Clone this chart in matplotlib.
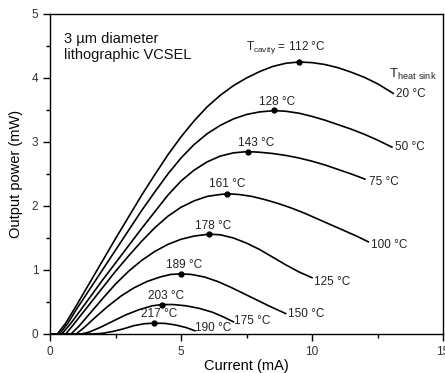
import matplotlib
matplotlib.use("Agg")
import matplotlib.pyplot as plt
from matplotlib.ticker import MultipleLocator

plt.rcParams['font.family'] = ['Liberation Sans', 'DejaVu Sans']

# current (mA) / output power (mW) for each heat sink temperature
i20 = [0.0, 0.28, 0.6, 1.0, 1.5, 2.0, 2.5, 3.0, 3.5, 4.0, 4.5, 5.0, 5.5, 6.0, 6.5, 7.0, 7.5, 8.0,
       8.5, 9.0, 9.5, 10.0, 10.5, 11.0, 11.5, 12.0, 12.5, 13.1]
p20 = [0.0, 0.0, 0.17, 0.44, 0.79, 1.14, 1.49, 1.83, 2.17, 2.49, 2.80, 3.08, 3.33, 3.55, 3.73, 3.88, 4.00, 4.10,
       4.18, 4.23, 4.25, 4.24, 4.21, 4.16, 4.09, 4.01, 3.91, 3.76]
i50 = [0.0, 0.36, 0.7, 1.0, 1.5, 2.0, 2.5, 3.0, 3.5, 4.0, 4.5, 5.0, 5.5, 6.0, 6.5, 7.0, 7.5, 8.0,
       8.56, 9.0, 9.5, 10.0, 10.5, 11.0, 11.5, 12.0, 12.5, 13.05]
p50 = [0.0, 0.0, 0.18, 0.38, 0.69, 1.0, 1.31, 1.62, 1.93, 2.22, 2.50, 2.75, 2.96, 3.13, 3.26, 3.36, 3.43, 3.47,
       3.49, 3.48, 3.45, 3.40, 3.34, 3.27, 3.20, 3.12, 3.03, 2.92]
i75 = [0.0, 0.45, 0.8, 1.0, 1.5, 2.0, 2.5, 3.0, 3.5, 4.0, 4.5, 5.0, 5.5, 6.0, 6.5, 7.0, 7.54, 8.0,
       8.5, 9.0, 9.5, 10.0, 10.5, 11.0, 11.5, 12.02]
p75 = [0.0, 0.0, 0.17, 0.28, 0.56, 0.84, 1.11, 1.38, 1.65, 1.91, 2.17, 2.39, 2.56, 2.69, 2.78, 2.83, 2.85, 2.84,
       2.82, 2.79, 2.75, 2.70, 2.64, 2.57, 2.50, 2.42]
i100 = [0.0, 0.6, 0.9, 1.5, 2.0, 2.5, 3.0, 3.5, 4.0, 4.5, 5.0, 5.5, 6.0, 6.5, 6.77, 7.2, 7.7, 8.2,
        8.7, 9.2, 9.7, 10.2, 10.7, 11.2, 11.7, 12.15]
p100 = [0.0, 0.0, 0.15, 0.46, 0.72, 0.98, 1.22, 1.45, 1.66, 1.84, 1.98, 2.08, 2.15, 2.18, 2.19, 2.18, 2.15, 2.10,
        2.04, 1.97, 1.89, 1.80, 1.71, 1.62, 1.53, 1.44]
i125 = [0.0, 0.8, 1.1, 1.5, 2.0, 2.5, 3.0, 3.5, 4.0, 4.5, 5.0, 5.5, 6.07, 6.5, 7.0, 7.5, 8.0, 8.5,
        9.0, 9.5, 10.0]
p125 = [0.0, 0.0, 0.12, 0.31, 0.55, 0.78, 0.98, 1.15, 1.29, 1.40, 1.48, 1.53, 1.56, 1.55, 1.50, 1.42, 1.32, 1.20,
        1.08, 0.97, 0.88]
i150 = [0.0, 1.0, 1.3, 1.7, 2.2, 2.7, 3.2, 3.7, 4.2, 4.6, 5.0, 5.4, 5.9, 6.4, 6.9, 7.4, 7.9, 8.4, 8.99]
p150 = [0.0, 0.0, 0.10, 0.25, 0.43, 0.59, 0.72, 0.82, 0.89, 0.93, 0.94, 0.93, 0.89, 0.82, 0.73, 0.63, 0.53, 0.43, 0.32]
i175 = [0.0, 1.2, 1.5, 1.9, 2.4, 2.9, 3.4, 3.9, 4.27, 4.7, 5.2, 5.7, 6.2, 6.6, 7.0]
p175 = [0.0, 0.0, 0.03, 0.10, 0.20, 0.30, 0.38, 0.44, 0.46, 0.46, 0.44, 0.40, 0.34, 0.27, 0.19]
i190 = [0.0, 1.6, 2.0, 2.4, 2.8, 3.2, 3.6, 3.97, 4.4, 4.8, 5.2, 5.53]
p190 = [0.0, 0.0, 0.01, 0.04, 0.08, 0.13, 0.16, 0.17, 0.165, 0.14, 0.10, 0.05]

curves = [(i20, p20), (i50, p50), (i75, p75), (i100, p100),
          (i125, p125), (i150, p150), (i175, p175), (i190, p190)]

# heat sink labels
sink_labels = ['20 °C', '50 °C', '75 °C', '100 °C', '125 °C', '150 °C', '175 °C', '190 °C']
sink_x = [13.22, 13.18, 12.16, 12.25, 10.06, 9.07, 7.04, 5.54]
sink_y = [3.75, 2.92, 2.38, 1.39, 0.81, 0.32, 0.20, 0.10]

# cavity temperature at maximum output
peak_i = [9.49, 8.56, 7.54, 6.76, 6.07, 4.99, 4.27, 3.97]
peak_p = [4.25, 3.50, 2.85, 2.19, 1.56, 0.94, 0.46, 0.17]
cavity_labels = ['112 °C', '128 °C', '143 °C', '161 °C', '178 °C', '189 °C', '203 °C', '217 °C']
cavity_x = [8.99, 8.66, 7.87, 6.75, 6.21, 5.13, 4.43, 4.15]
cavity_y = [4.47, 3.63, 2.99, 2.34, 1.69, 1.08, 0.59, 0.31]

fig = plt.figure(figsize=(4.45, 3.73), dpi=100)
ax = fig.add_axes([0.1124, 0.1046, 0.8831, 0.8579])

for xs, ys in curves:
    ax.plot(xs, ys, color='black', lw=1.2)
ax.plot(peak_i, peak_p, 'o', color='black', ms=3.5, ls='none')

for lab, x, y in zip(sink_labels, sink_x, sink_y):
    ax.text(x, y, lab, fontsize=8.5, ha='left', va='center', color='#222222')

for k, (lab, x, y) in enumerate(zip(cavity_labels, cavity_x, cavity_y)):
    if k == 0:
        lab = r'T$_{\mathregular{cavity}}$ = ' + lab
    ax.text(x, y, lab, fontsize=8.5, ha='center', va='center', color='#222222')

ax.text(12.95, 4.05, r'T$_{\mathregular{heat\ sink}}$', fontsize=9.5, ha='left', va='center', color='#222222')
ax.text(0.55, 4.72, '3 \u00b5m diameter\nlithographic VCSEL', fontsize=10.5, ha='left', va='top',
        linespacing=1.15, color='#111111')

ax.set_xlim(0, 15)
ax.set_ylim(0, 5)
ax.xaxis.set_major_locator(MultipleLocator(5))
ax.xaxis.set_minor_locator(MultipleLocator(2.5))
ax.yaxis.set_major_locator(MultipleLocator(1))
ax.yaxis.set_minor_locator(MultipleLocator(0.5))
ax.tick_params(which='major', direction='out', length=5, width=1, labelsize=8.5, labelcolor='#333333')
ax.tick_params(which='minor', direction='out', length=3, width=1)
for s in ax.spines.values():
    s.set_linewidth(1)
ax.set_xlabel('Current (mA)', fontsize=10.5, labelpad=1)
ax.set_ylabel('Output power (mW)', fontsize=10.5, labelpad=6)

fig.savefig('out.png', dpi=100)
